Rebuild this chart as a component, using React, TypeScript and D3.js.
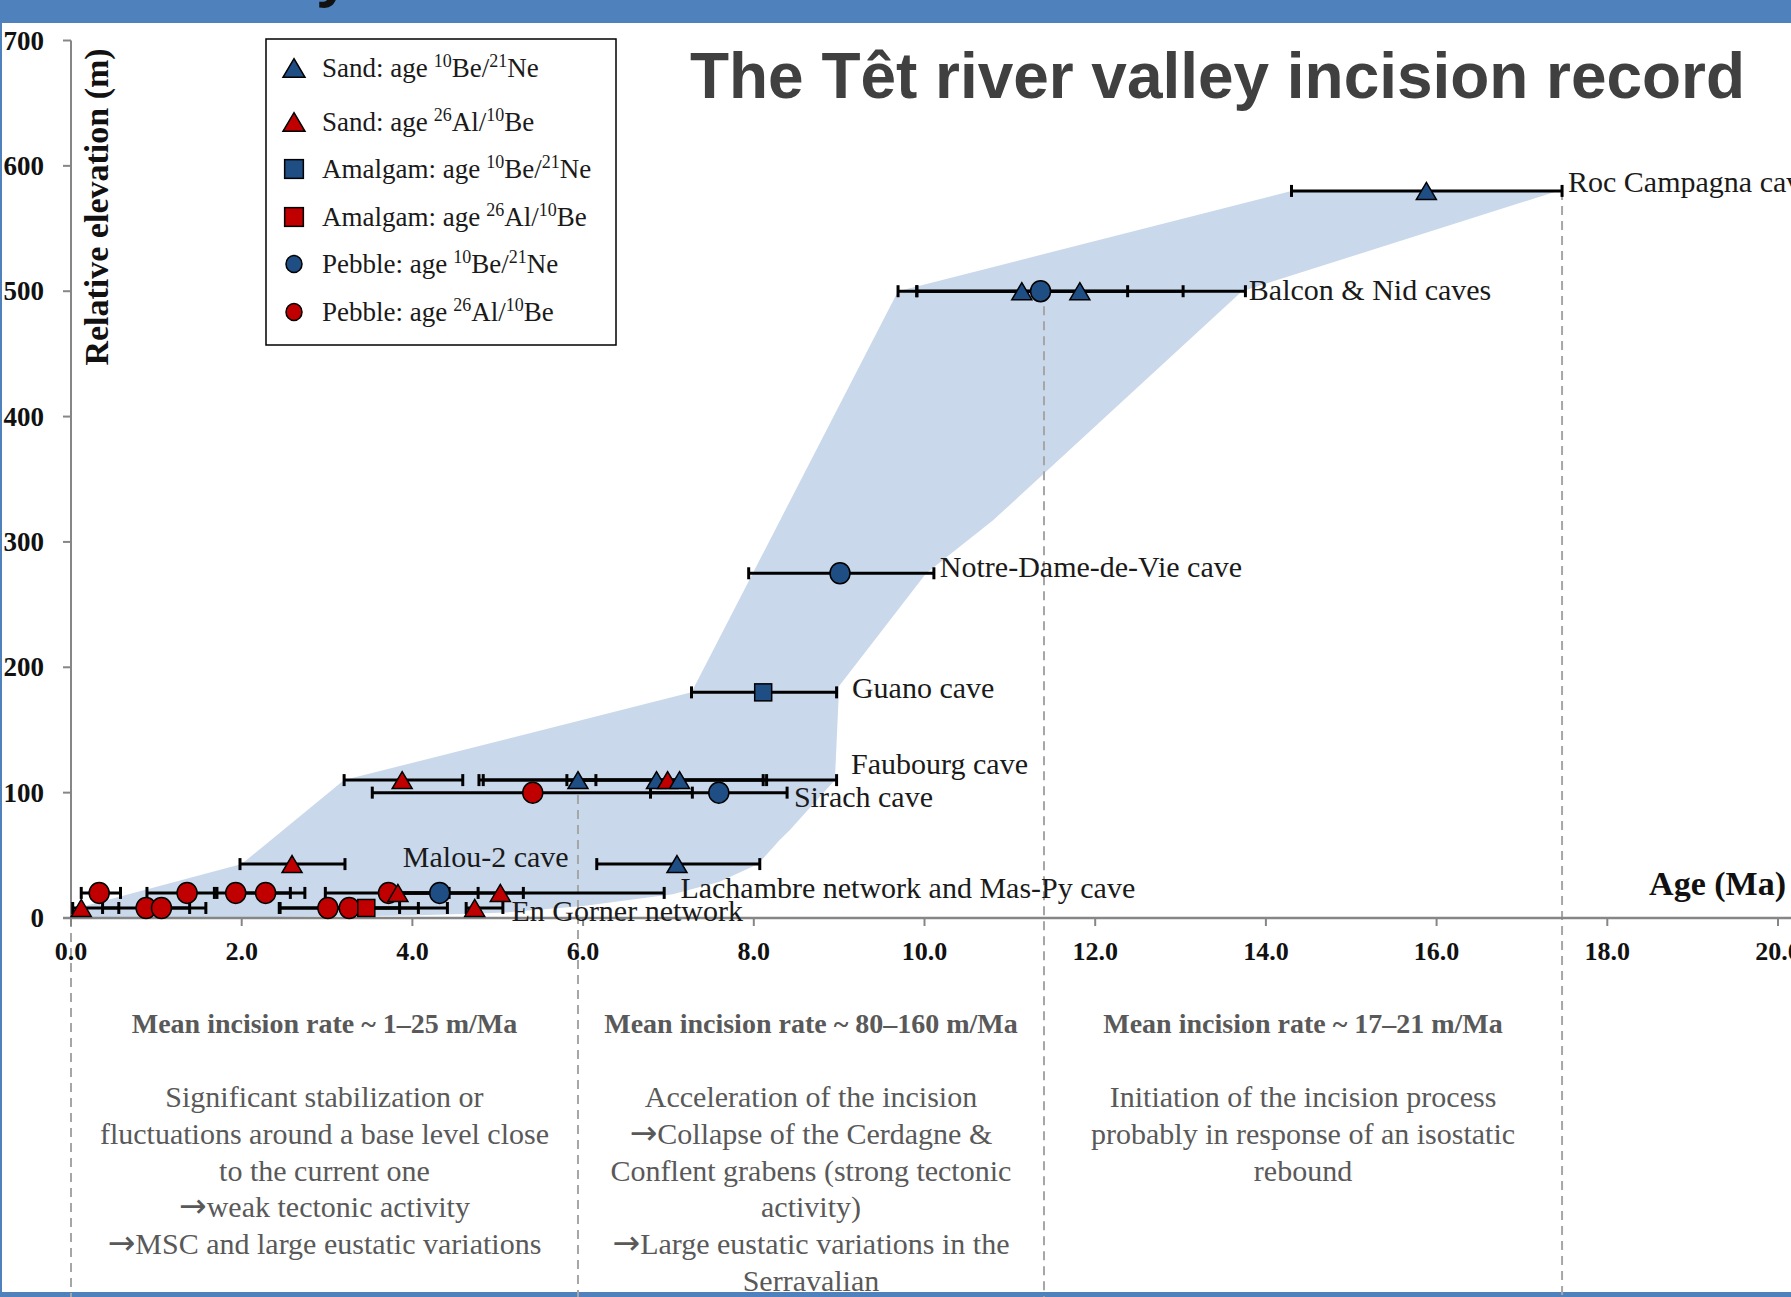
import React from "react"
import * as d3 from "d3"

const W = 1791
const H = 1297

const BLUE = "#1F4E85"
const RED = "#C00000"
const BAND = "#C9D8EB"
const FRAME = "#4F81BD"
const SERIF = "'Liberation Serif', 'Times New Roman', serif"

// each sample: [age (Ma), lower age, upper age, sample kind]
type Sample = [number, number, number, string]

const rocCampagna: Sample[] = [[15.88, 14.3, 17.47, "sandBe"]]
const balconNid: Sample[] = [
  [11.14, 9.69, 12.38, "sandBe"],
  [11.36, 9.91, 13.03, "pebBe"],
  [11.82, 9.91, 13.76, "sandBe"],
]
const notreDame: Sample[] = [[9.01, 7.94, 10.11, "pebBe"]]
const guano: Sample[] = [[8.11, 7.27, 8.97, "amalBe"]]
const faubourg: Sample[] = [
  [3.88, 3.2, 4.59, "sandAl"],
  [5.94, 5.81, 6.15, "sandBe"],
  [6.86, 4.78, 8.97, "sandBe"],
  [6.99, 4.83, 8.15, "sandAl"],
  [7.13, 5.94, 8.11, "sandBe"],
]
const sirach: Sample[] = [
  [5.41, 3.53, 7.28, "pebAl"],
  [7.59, 6.79, 8.39, "pebBe"],
]
const malou: Sample[] = [
  [2.59, 1.98, 3.21, "sandAl"],
  [7.1, 6.16, 8.07, "sandBe"],
]
const lachambre: Sample[] = [
  [0.33, 0.12, 0.58, "pebAl"],
  [1.36, 0.89, 1.71, "pebAl"],
  [1.93, 1.68, 2.57, "pebAl"],
  [2.28, 1.93, 2.74, "pebAl"],
  [3.72, 2.98, 4.43, "pebAl"],
  [3.83, 3.72, 4.77, "sandAl"],
  [4.32, 3.72, 5.3, "pebBe"],
  [5.03, 3.83, 6.95, "sandAl"],
]
const enGorner: Sample[] = [
  [0.12, 0.02, 0.56, "sandAl"],
  [0.88, 0.37, 1.39, "pebAl"],
  [1.06, 0.88, 1.58, "pebAl"],
  [3.01, 2.44, 3.85, "pebAl"],
  [3.26, 2.45, 4.07, "pebAl"],
  [3.46, 3.01, 4.41, "amalAl"],
  [4.73, 4.63, 5.06, "sandAl"],
]

const siteNames = [
  "Roc Campagna cave", "Balcon & Nid caves", "Notre-Dame-de-Vie cave", "Guano cave",
  "Faubourg cave", "Sirach cave", "Malou-2 cave", "Lachambre network and Mas-Py cave", "En Gorner network",
]
const siteElevations = [580, 500, 275, 180, 110, 100, 43, 20, 8]
const siteSamples = [rocCampagna, balconNid, notreDame, guano, faubourg, sirach, malou, lachambre, enGorner]

// where the cave names sit: [age, elevation, anchor]
const labelSpots: [number, number, string][] = [
  [17.54, 586, "start"], [13.8, 500, "start"], [10.18, 279, "start"], [9.15, 183, "start"],
  [9.14, 122, "start"], [8.47, 96, "start"], [5.83, 48, "end"], [7.14, 23, "start"], [5.16, 5, "start"],
]

// envelope of the incision record [age, elevation]
const bandOutline: [number, number][] = [
  [0.02, 7], [2.0, 43], [3.2, 110], [7.27, 180], [9.69, 500], [14.3, 580], [17.42, 580],
  [13.72, 500], [10.8, 317], [10.02, 275], [9.0, 185], [8.95, 110], [8.42, 70], [8.3, 62],
  [8.05, 43], [7.6, 29], [7.05, 19], [6.0, 9.5], [5.1, 4.4], [4.0, 2], [2.0, 0.5], [0.02, 0],
]

const dashAges = [0, 5.94, 11.4, 17.47]
const dashFrom = [0, 110, 500, 580]

const legendKinds = ["sandBe", "sandAl", "amalBe", "amalAl", "pebBe", "pebAl"]
const legendNames = ["Sand", "Sand", "Amalgam", "Amalgam", "Pebble", "Pebble"]

const rateTitles = [
  "Mean incision rate ~ 1–25 m/Ma",
  "Mean incision rate ~ 80–160 m/Ma",
  "Mean incision rate ~ 17–21 m/Ma",
]
const rateNotes = [
  ["Significant stabilization or", "fluctuations around a base level close", "to the current one", "→weak tectonic activity", "→MSC and large eustatic variations"],
  ["Acceleration of the incision", "→Collapse of the Cerdagne &", "Conflent grabens (strong tectonic", "activity)", "→Large eustatic variations in the", "Serravalian"],
  ["Initiation of the incision process", "probably in response of an isostatic", "rebound"],
]

const x = d3.scaleLinear().domain([0, 20]).range([71, 1778])
const y = d3.scaleLinear().domain([0, 700]).range([918, 40.5])

function Marker({ kind, cx, cy, scale = 1 }: { kind: string; cx: number; cy: number; scale?: number }) {
  const fill = kind.endsWith("Be") ? BLUE : RED
  const common = { fill, stroke: "#000", strokeWidth: 1.5 }
  if (kind.startsWith("sand")) {
    const w = 20 * scale, h = 17 * scale
    return <path d={`M${cx},${cy - h / 2}L${cx + w / 2},${cy + h / 2}L${cx - w / 2},${cy + h / 2}Z`} {...common} />
  }
  if (kind.startsWith("amal")) {
    const s = 17 * scale
    return <rect x={cx - s / 2} y={cy - s / 2} width={s} height={s} {...common} />
  }
  return <ellipse cx={cx} cy={cy} rx={10 * scale} ry={10.5 * scale} {...common} />
}

function isotopes(kind: string) {
  return kind.endsWith("Be") ? [["10", "Be/"], ["21", "Ne"]] : [["26", "Al/"], ["10", "Be"]]
}

function NoteLine({ text }: { text: string }) {
  if (!text.startsWith("→")) return <>{text}</>
  return (
    <>
      <tspan fontFamily="'DejaVu Sans', sans-serif" fontSize={33}>→</tspan>
      <tspan>{text.slice(1)}</tspan>
    </>
  )
}

export default function App() {
  const bandPath = d3.line<[number, number]>().x((d) => x(d[0])).y((d) => y(d[1]))(bandOutline) + "Z"
  const colCenters = [0, 1, 2].map((i) => x((dashAges[i] + dashAges[i + 1]) / 2))

  return (
    <svg width={W} height={H} style={{ position: "absolute", left: 0, top: 0, background: "#fff" }}>
      {/* frame */}
      <rect x={0} y={0} width={W} height={23} fill={FRAME} />
      <text x={316} y={-5} fontFamily="'Liberation Sans', Arial, sans-serif" fontWeight="bold" fontSize={62} fill="#111">y</text>
      <rect x={0} y={0} width={2} height={H} fill={FRAME} />
      <rect x={0} y={1292} width={W} height={5} fill={FRAME} />

      <path d={bandPath} fill={BAND} />

      {dashAges.map((a, i) => (
        <line key={i} x1={x(a)} x2={x(a)} y1={y(dashFrom[i])} y2={H} stroke="#A6A6A6" strokeWidth={2} strokeDasharray="9,6" />
      ))}

      {/* axes */}
      <line x1={71} x2={71} y1={y(700)} y2={y(0)} stroke="#868686" strokeWidth={2} />
      <line x1={63} x2={W} y1={y(0)} y2={y(0)} stroke="#868686" strokeWidth={2.5} />
      {y.ticks(7).map((t) => (
        <g key={t}>
          <line x1={63} x2={71} y1={y(t)} y2={y(t)} stroke="#868686" strokeWidth={2} />
          <text x={44} y={y(t) + 9} textAnchor="end" fontFamily={SERIF} fontWeight="bold" fontSize={27} fill="#111">{t}</text>
        </g>
      ))}
      {x.ticks(10).map((t) => (
        <g key={t}>
          <line x1={x(t)} x2={x(t)} y1={y(0)} y2={y(0) + 8} stroke="#868686" strokeWidth={2} />
          <text x={x(t)} y={960} textAnchor="middle" fontFamily={SERIF} fontWeight="bold" fontSize={26} fill="#111">{d3.format(".1f")(t)}</text>
        </g>
      ))}
      <text transform="translate(108,207) rotate(-90)" textAnchor="middle" fontFamily={SERIF} fontWeight="bold" fontSize={34} fill="#111">Relative elevation (m)</text>
      <text x={1786} y={895} textAnchor="end" fontFamily={SERIF} fontWeight="bold" fontSize={34} fill="#111">Age (Ma)</text>

      {/* error bars */}
      {siteSamples.map((pts, si) =>
        pts.map((p, pi) => {
          const cy = y(siteElevations[si])
          return (
            <g key={`e${si}-${pi}`} stroke="#000" strokeWidth={3}>
              <line x1={x(p[1])} x2={x(p[2])} y1={cy} y2={cy} />
              <line x1={x(p[1])} x2={x(p[1])} y1={cy - 6} y2={cy + 6} />
              <line x1={x(p[2])} x2={x(p[2])} y1={cy - 6} y2={cy + 6} />
            </g>
          )
        })
      )}
      {siteSamples.map((pts, si) =>
        pts.map((p, pi) => <Marker key={`m${si}-${pi}`} kind={p[3]} cx={x(p[0])} cy={y(siteElevations[si])} />)
      )}

      {siteNames.map((n, i) => (
        <text key={n} x={x(labelSpots[i][0])} y={y(labelSpots[i][1]) + 9} textAnchor={labelSpots[i][2]}
          fontFamily={SERIF} fontSize={30} fill="#1a1a1a">{n}</text>
      ))}

      {/* legend */}
      <rect x={266} y={39} width={350} height={306} fill="#fff" stroke="#000" strokeWidth={1.5} />
      {legendKinds.map((k, i) => {
        const cy = [68, 122, 169, 217, 264, 312][i]
        const iso = isotopes(k)
        return (
          <g key={k}>
            <Marker kind={k} cx={294} cy={cy} scale={k.startsWith("peb") ? 0.8 : 1.1} />
            <text x={322} y={cy + 9} fontFamily={SERIF} fontSize={27} fill="#1a1a1a">
              {legendNames[i]}: age
              <tspan dx={6} dy={-10} fontSize={18}>{iso[0][0]}</tspan>
              <tspan dy={10}>{iso[0][1]}</tspan>
              <tspan dy={-10} fontSize={18}>{iso[1][0]}</tspan>
              <tspan dy={10}>{iso[1][1]}</tspan>
            </text>
          </g>
        )
      })}

      <text x={690} y={98} fontFamily="'Liberation Sans', Arial, sans-serif" fontWeight="bold" fontSize={64}
        fill="#404040" textLength={1055} lengthAdjust="spacingAndGlyphs">The Têt river valley incision record</text>

      {/* incision rate notes */}
      {rateTitles.map((t, i) => (
        <g key={t} fontFamily={SERIF} fill="#595959" textAnchor="middle">
          <text x={colCenters[i]} y={1033} fontWeight="bold" fontSize={28}>{t}</text>
          {rateNotes[i].map((line, j) => (
            <text key={j} x={colCenters[i]} y={1107 + j * 36.8} fontSize={30}><NoteLine text={line} /></text>
          ))}
        </g>
      ))}
    </svg>
  )
}
